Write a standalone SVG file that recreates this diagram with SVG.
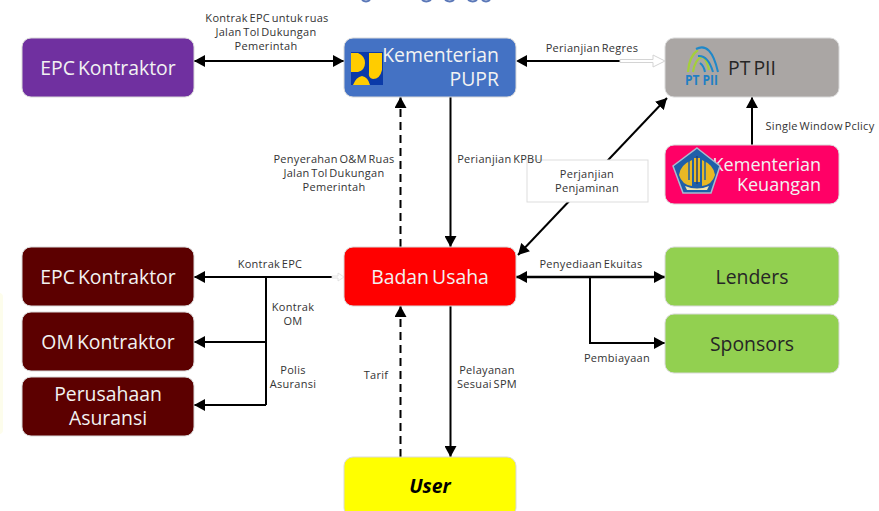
<svg xmlns="http://www.w3.org/2000/svg" width="879" height="511" viewBox="0 0 879 511">
<style>
text{font-family:"Open Sans","Noto Sans","Liberation Sans",sans-serif}
.n{stroke:#d9d9d9;stroke-width:1}
.t{font-size:19.400px;text-anchor:middle;fill:#f2f2f2;word-spacing:-2px}
.d{fill:#262626}
.l{font-size:11px;fill:#333;text-anchor:middle;letter-spacing:.3px;word-spacing:-1.500px}
.c{fill:none;stroke:#000;stroke-width:2}
.a{marker-end:url(#ah)}
.b{marker-start:url(#as);marker-end:url(#ah)}
</style>
<defs>
<marker id="ah" markerUnits="userSpaceOnUse" markerWidth="12" markerHeight="12" refX="11" refY="6" orient="auto"><path d="M0 0L11 6L0 12Z" fill="#000"/></marker>
<marker id="as" markerUnits="userSpaceOnUse" markerWidth="12" markerHeight="12" refX="0" refY="6" orient="auto"><path d="M11 0L0 6L11 12Z" fill="#000"/></marker>
</defs>
<rect x="-6" y="293" width="9" height="141" rx="4" fill="#fdfdec"/>
<path d="M362 0q4 3 8 0M422 0q4 3 9 0M445 0q5 3 9 0M468 0q5 3 9 0M482 0q4 3 8 0" fill="none" stroke="#5b78b8" stroke-width="2"/>
<g id="connectors">
<path class="c" d="M527 61H620"/>
<path d="M516 61L527 55V67Z" fill="#000"/>
<path d="M620 59.500H653V55L665 61L653 67V62.500H620Z" fill="#fff" stroke="#d4d4d4"/>
<path class="c b" d="M194 61H344"/>
<path class="c a" stroke-dasharray="8 5" d="M400.500 247V97"/>
<path class="c a" d="M450.500 97V247"/>
<path class="c b" d="M518 255L667 98"/>
<path class="c a" d="M752 145V97"/>
<path class="c a" d="M332 277H194"/>
<path d="M332 276H338V273L344 277L338 281V278H332Z" fill="#fff" stroke="#ddd" stroke-width=".8"/>
<path class="c" d="M266 277V405"/>
<path class="c a" d="M266 342H194"/>
<path class="c a" d="M266 405H194"/>
<path class="c b" style="stroke-width:2.500" d="M516 277H665"/>
<path class="c a" d="M590 277V343H665"/>
<path class="c a" stroke-dasharray="8 5" d="M400.500 457V306"/>
<path class="c a" d="M450.500 306V457"/>
</g>
<g id="epc-top"><rect class="n" x="22" y="38" width="172" height="59" rx="9" fill="#7030a0"/><text class="t" x="108" y="75">EPC Kontraktor</text></g>
<g id="pupr"><rect class="n" x="344" y="38" width="172" height="59" rx="9" fill="#4472c4"/>
<text class="t" x="499" y="62" style="text-anchor:end">Kementerian</text><text class="t" x="499" y="86" style="text-anchor:end">PUPR</text>
<rect x="351" y="52" width="32" height="33" fill="#0b3aa8"/>
<path d="M351 53H358Q365 56 365 63Q365 70 358 72H351ZM369 53H382V70Q380 79 373 79Q368 78 369 72ZM353 85Q356 77 362 76Q368 77 370 85Z" fill="#ffcc00"/></g>
<g id="ptpii"><rect class="n" x="665" y="38" width="174" height="59" rx="9" fill="#aaa6a4"/>
<path d="M688 72Q689 56 698 50M693 72Q695 59 702 57M703 57Q707 60 709 70" fill="none" stroke="#a4cf3a" stroke-width="2.200"/>
<path d="M696 49Q711 41 718 72M698 56Q708 55 713 72M700 63Q704 66 705 72" fill="none" stroke="#1f88c9" stroke-width="2"/>
<text x="685" y="85" font-size="14" font-weight="700" fill="#1f7fc4" textLength="33" lengthAdjust="spacingAndGlyphs">PT PII</text>
<text class="t d" x="752" y="75">PT PII</text></g>
<g id="keuangan"><rect class="n" x="665" y="145" width="174" height="59" rx="9" fill="#ff0066"/>
<text class="t" x="821" y="171" style="text-anchor:end;font-size:18px">Kementerian</text><text class="t" x="821" y="191" style="text-anchor:end;font-size:18px">Keuangan</text>
<path d="M697 148L720 166L711 193H683L673 166Z" fill="#1f5fa8" stroke="#a9bccf" stroke-width="1.500"/>
<path d="M692 160Q680 165 679 175Q682 185 692 186ZM702 160Q714 165 715 175Q712 185 702 186Z" fill="#e8b825"/>
<path d="M689 160V180M705 160V180" stroke="#1f5fa8" stroke-width="1.500"/>
<path d="M694 158H700V182H694Z" fill="#e8b825"/><path d="M697 156V184" stroke="#20407c" stroke-width="1.500"/>
<path d="M685 186Q697 191 709 186L707 190H687Z" fill="#f2e6b0"/></g>
<g id="perjanjian-penjaminan"><rect x="527" y="160" width="121" height="42" fill="#fff" stroke="#ddd"/><text class="l" x="587" y="178">Perjanjian</text><text class="l" x="587" y="192">Penjaminan</text></g>
<g id="badan-usaha"><rect class="n" x="344" y="247" width="172" height="59" rx="9" fill="#ff0000"/><text class="t" x="430" y="284">Badan Usaha</text></g>
<g id="epc-bawah"><rect class="n" x="22" y="247" width="172" height="59" rx="9" fill="#5c0000"/><text class="t" x="108" y="284">EPC Kontraktor</text></g>
<g id="om"><rect class="n" x="22" y="312" width="172" height="59" rx="9" fill="#5c0000"/><text class="t" x="108" y="349">OM Kontraktor</text></g>
<g id="asuransi"><rect class="n" x="22" y="377" width="172" height="59" rx="9" fill="#5c0000"/><text class="t" x="108" y="401">Perusahaan</text><text class="t" x="108" y="425">Asuransi</text></g>
<g id="lenders"><rect class="n" x="665" y="247" width="174" height="59" rx="9" fill="#92d050"/><text class="t d" x="752" y="284">Lenders</text></g>
<g id="sponsors"><rect class="n" x="665" y="314" width="174" height="59" rx="9" fill="#92d050"/><text class="t d" x="752" y="351">Sponsors</text></g>
<g id="user"><rect class="n" x="344" y="457" width="172" height="60" rx="9" fill="#ffff00"/><text class="t" x="430" y="493" style="fill:#000;font-weight:700;font-style:italic">User</text></g>
<g id="labels">
<text class="l" x="267" y="22">Kontrak EPC untuk ruas</text><text class="l" x="266" y="36">Jalan Tol Dukungan</text><text class="l" x="266" y="50">Pemerintah</text>
<text class="l" x="592" y="52">Perianjian Regres</text>
<text class="l" x="820" y="130">Single Window Pclicy</text>
<text class="l" x="334" y="163">Penyerahan O&amp;M Ruas</text><text class="l" x="334" y="177">Jalan Tol Dukungan</text><text class="l" x="334" y="191">Pemerintah</text>
<text class="l" x="500" y="163">Perianjian KPBU</text>
<text class="l" x="270" y="268">Kontrak EPC</text>
<text class="l" x="293" y="311">Kontrak</text><text class="l" x="293" y="325">OM</text>
<text class="l" x="293" y="374">Polis</text><text class="l" x="293" y="388">Asuransi</text>
<text class="l" x="591" y="268">Penyediaan Ekuitas</text>
<text class="l" x="617" y="362">Pembiayaan</text>
<text class="l" x="376" y="379">Tarif</text>
<text class="l" x="487" y="374">Pelayanan</text><text class="l" x="487" y="388">Sesuai SPM</text>
</g>
</svg>
